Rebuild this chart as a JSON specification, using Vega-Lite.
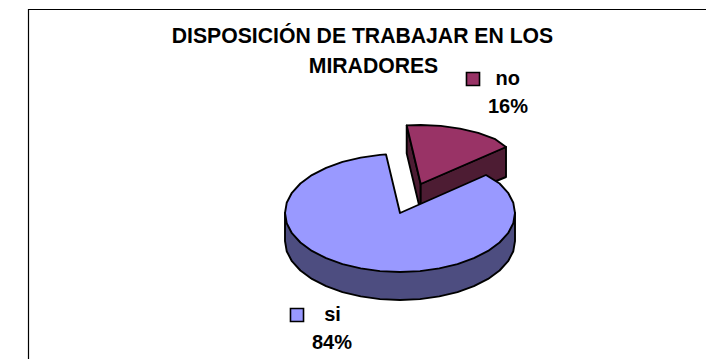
{"$schema":"https://vega.github.io/schema/vega-lite/v6.json","width":706,"height":359,"padding":0,"autosize":{"type":"none"},"background":"white","view":{"stroke":null},
"datasets":{"slices":[
{"part":"no_left_wall","i":0,"x":6.7,"y":87.6},{"part":"no_left_wall","i":1,"x":20.7,"y":29},{"part":"no_left_wall","i":2,"x":20.7,"y":1},{"part":"no_left_wall","i":3,"x":6.7,"y":59.6},
{"part":"no_right_wall","i":0,"x":20.7,"y":29},{"part":"no_right_wall","i":1,"x":106,"y":66},{"part":"no_right_wall","i":2,"x":106,"y":36},{"part":"no_right_wall","i":3,"x":20.7,"y":1},
{"part":"no_top","i":0,"x":20.7,"y":29},{"part":"no_top","i":1,"x":6.7,"y":87.6},{"part":"no_top","i":2,"x":20.7,"y":88},{"part":"no_top","i":3,"x":40.7,"y":87.1},{"part":"no_top","i":4,"x":60,"y":84.4},{"part":"no_top","i":5,"x":78.2,"y":80.1},{"part":"no_top","i":6,"x":94.6,"y":74.2},{"part":"no_top","i":7,"x":106,"y":66},
{"part":"si_wall","i":0,"x":115,"y":0},{"part":"si_wall","i":1,"x":115,"y":-28},{"part":"si_wall","i":2,"x":113.3,"y":-38.2},{"part":"si_wall","i":3,"x":108.1,"y":-48.2},{"part":"si_wall","i":4,"x":99.6,"y":-57.5},{"part":"si_wall","i":5,"x":88.1,"y":-65.9},{"part":"si_wall","i":6,"x":73.9,"y":-73.2},{"part":"si_wall","i":7,"x":57.5,"y":-79.1},{"part":"si_wall","i":8,"x":39.3,"y":-83.4},{"part":"si_wall","i":9,"x":20,"y":-86.1},{"part":"si_wall","i":10,"x":0,"y":-87},{"part":"si_wall","i":11,"x":-20,"y":-86.1},{"part":"si_wall","i":12,"x":-39.3,"y":-83.4},{"part":"si_wall","i":13,"x":-57.5,"y":-79.1},{"part":"si_wall","i":14,"x":-73.9,"y":-73.2},{"part":"si_wall","i":15,"x":-88.1,"y":-65.9},{"part":"si_wall","i":16,"x":-99.6,"y":-57.5},{"part":"si_wall","i":17,"x":-108.1,"y":-48.2},{"part":"si_wall","i":18,"x":-113.3,"y":-38.2},{"part":"si_wall","i":19,"x":-115,"y":-28},{"part":"si_wall","i":20,"x":-115,"y":0},
{"part":"si_top","i":0,"x":0,"y":0},{"part":"si_top","i":1,"x":86,"y":38},{"part":"si_top","i":2,"x":99.6,"y":29.5},{"part":"si_top","i":3,"x":108.1,"y":20.2},{"part":"si_top","i":4,"x":113.3,"y":10.2},{"part":"si_top","i":5,"x":115,"y":0},{"part":"si_top","i":6,"x":113.3,"y":-10.2},{"part":"si_top","i":7,"x":108.1,"y":-20.2},{"part":"si_top","i":8,"x":99.6,"y":-29.5},{"part":"si_top","i":9,"x":88.1,"y":-37.9},{"part":"si_top","i":10,"x":73.9,"y":-45.2},{"part":"si_top","i":11,"x":57.5,"y":-51.1},{"part":"si_top","i":12,"x":39.3,"y":-55.4},{"part":"si_top","i":13,"x":20,"y":-58.1},{"part":"si_top","i":14,"x":0,"y":-59},{"part":"si_top","i":15,"x":-20,"y":-58.1},{"part":"si_top","i":16,"x":-39.3,"y":-55.4},{"part":"si_top","i":17,"x":-57.5,"y":-51.1},{"part":"si_top","i":18,"x":-73.9,"y":-45.2},{"part":"si_top","i":19,"x":-88.1,"y":-37.9},{"part":"si_top","i":20,"x":-99.6,"y":-29.5},{"part":"si_top","i":21,"x":-108.1,"y":-20.2},{"part":"si_top","i":22,"x":-113.3,"y":-10.2},{"part":"si_top","i":23,"x":-115,"y":0},{"part":"si_top","i":24,"x":-113.3,"y":10.2},{"part":"si_top","i":25,"x":-108.1,"y":20.2},{"part":"si_top","i":26,"x":-99.6,"y":29.5},{"part":"si_top","i":27,"x":-88.1,"y":37.9},{"part":"si_top","i":28,"x":-73.9,"y":45.2},{"part":"si_top","i":29,"x":-57.5,"y":51.1},{"part":"si_top","i":30,"x":-39.3,"y":55.4},{"part":"si_top","i":31,"x":-20,"y":58.1},{"part":"si_top","i":32,"x":-14,"y":58.6}
]},
"layer":[
{"data":{"values":[{"i":0,"x":-371.5,"y":-146},{"i":1,"x":-371.5,"y":203.5},{"i":2,"x":306,"y":203.5}]},
"mark":{"type":"line","stroke":"#000000","strokeWidth":1.2},
"encoding":{"x":{"field":"x","type":"quantitative","scale":{"domain":[-400,306]},"axis":null},"y":{"field":"y","type":"quantitative","scale":{"domain":[-146,213]},"axis":null},"order":{"field":"i"}}},
{"data":{"name":"slices"},
"mark":{"type":"line","interpolate":"linear-closed","stroke":"#000000","strokeWidth":1.9,"strokeJoin":"round"},
"encoding":{"x":{"field":"x","type":"quantitative","scale":{"domain":[-400,306]},"axis":null},"y":{"field":"y","type":"quantitative","scale":{"domain":[-146,213]},"axis":null},"order":{"field":"i"},"detail":{"field":"part"},
"fill":{"field":"part","type":"nominal","legend":null,"scale":{"domain":["no_left_wall","no_right_wall","no_top","si_wall","si_top"],"range":["#4D1C33","#4D1C33","#993366","#4D4D80","#9999FF"]}}}},
{"data":{"values":[{"category":"no","x":73,"y":134},{"category":"si","x":-103,"y":-102}]},
"mark":{"type":"point","shape":"square","filled":true,"size":170,"stroke":"#000000","strokeWidth":1.6,"opacity":1},
"encoding":{"x":{"field":"x","type":"quantitative","scale":{"domain":[-400,306]},"axis":null},"y":{"field":"y","type":"quantitative","scale":{"domain":[-146,213]},"axis":null},
"color":{"field":"category","type":"nominal","legend":null,"scale":{"domain":["no","si"],"range":["#993366","#9999FF"]}}}},
{"data":{"values":[{"label":"no","x":107.7,"y":134},{"label":"16%","x":108,"y":106},{"label":"si","x":-67.5,"y":-102},{"label":"84%","x":-68,"y":-130}]},
"mark":{"type":"text","font":"Liberation Sans","fontSize":20,"fontWeight":"bold","color":"#000000","align":"center","baseline":"middle"},
"encoding":{"x":{"field":"x","type":"quantitative","scale":{"domain":[-400,306]},"axis":null},"y":{"field":"y","type":"quantitative","scale":{"domain":[-146,213]},"axis":null},"text":{"field":"label"}}},
{"data":{"values":[{"label":"DISPOSICIÓN DE TRABAJAR EN LOS","x":-37.5,"y":176},{"label":"MIRADORES","x":-26.5,"y":146}]},
"mark":{"type":"text","font":"Liberation Sans","fontSize":21.2,"fontWeight":"bold","color":"#000000","align":"center","baseline":"middle"},
"encoding":{"x":{"field":"x","type":"quantitative","scale":{"domain":[-400,306]},"axis":null},"y":{"field":"y","type":"quantitative","scale":{"domain":[-146,213]},"axis":null},"text":{"field":"label"}}}
]}
